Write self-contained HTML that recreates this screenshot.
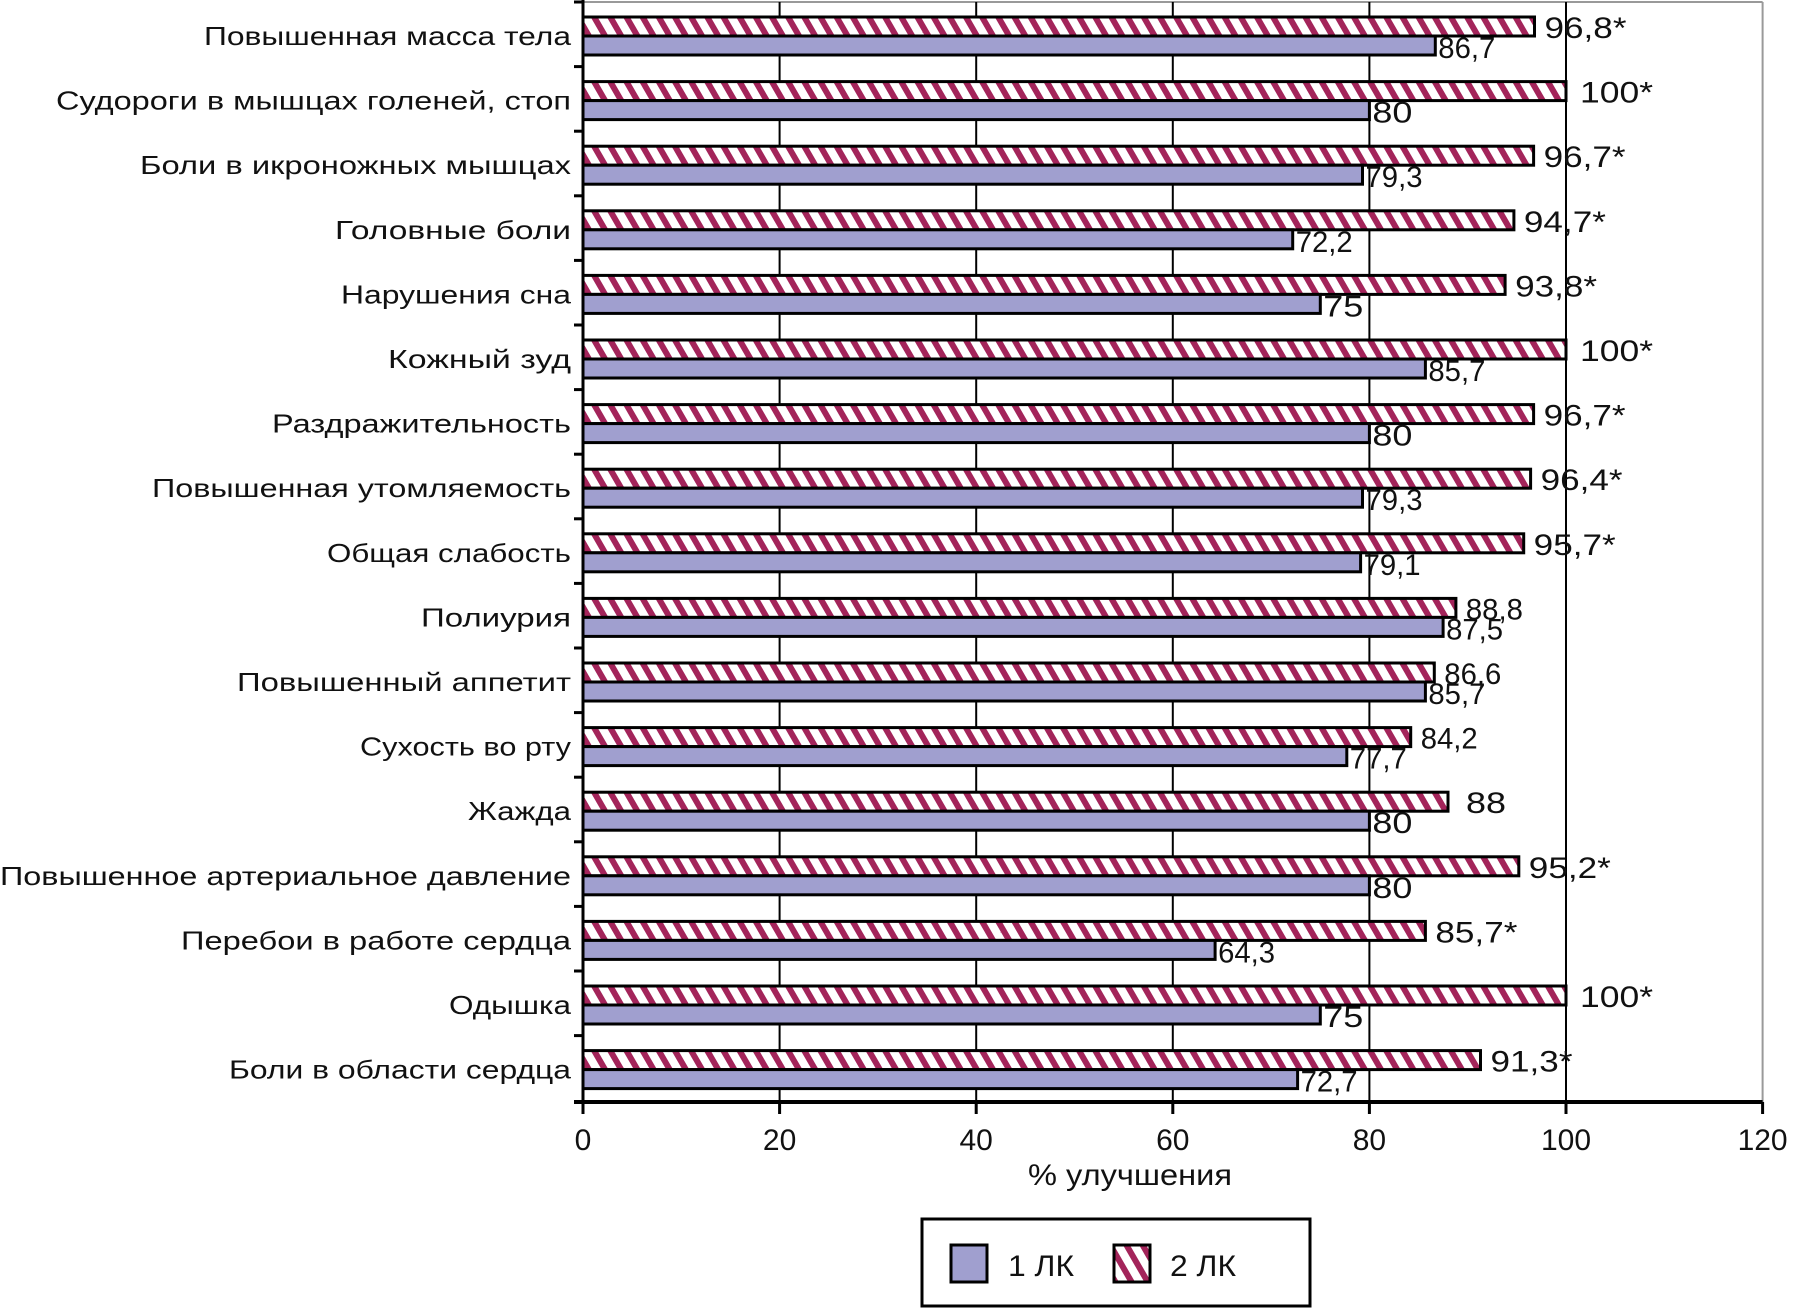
<!DOCTYPE html>
<html><head><meta charset="utf-8"><style>
html,body{margin:0;padding:0;background:#fff}
svg{display:block}
text{font-family:"Liberation Sans",sans-serif;fill:#111}
</style></head><body>
<svg width="1820" height="1308" viewBox="0 0 1820 1308" xmlns="http://www.w3.org/2000/svg">
<defs>
<pattern id="h" patternUnits="userSpaceOnUse" width="14" height="14" patternTransform="rotate(-30)">
<rect width="14" height="14" fill="#fff"/><rect width="6" height="14" fill="#A3245A"/>
</pattern>
</defs>
<line x1="583" y1="2" x2="1762.6" y2="2" stroke="#999" stroke-width="2"/>
<line x1="1762.6" y1="2" x2="1762.6" y2="1102" stroke="#999" stroke-width="2"/>
<g stroke="#000" stroke-width="2">
<line x1="779.6" y1="2" x2="779.6" y2="1102"/>
<line x1="976.2" y1="2" x2="976.2" y2="1102"/>
<line x1="1172.8" y1="2" x2="1172.8" y2="1102"/>
<line x1="1369.4" y1="2" x2="1369.4" y2="1102"/>
<line x1="1566" y1="2" x2="1566" y2="1102"/>
</g>
<g stroke="#000" stroke-width="3">
<line x1="583" y1="0" x2="583" y2="1114"/>
<line x1="574" y1="1102" x2="1762.6" y2="1102" stroke-width="4"/>
<line x1="779.6" y1="1102" x2="779.6" y2="1114"/>
<line x1="976.2" y1="1102" x2="976.2" y2="1114"/>
<line x1="1172.8" y1="1102" x2="1172.8" y2="1114"/>
<line x1="1369.4" y1="1102" x2="1369.4" y2="1114"/>
<line x1="1566" y1="1102" x2="1566" y2="1114"/>
<line x1="1762.6" y1="1102" x2="1762.6" y2="1114"/>
<line x1="574" y1="2" x2="583" y2="2"/>
<line x1="574" y1="66.6" x2="583" y2="66.6"/>
<line x1="574" y1="131.2" x2="583" y2="131.2"/>
<line x1="574" y1="195.8" x2="583" y2="195.8"/>
<line x1="574" y1="260.4" x2="583" y2="260.4"/>
<line x1="574" y1="325" x2="583" y2="325"/>
<line x1="574" y1="389.6" x2="583" y2="389.6"/>
<line x1="574" y1="454.2" x2="583" y2="454.2"/>
<line x1="574" y1="518.8" x2="583" y2="518.8"/>
<line x1="574" y1="583.4" x2="583" y2="583.4"/>
<line x1="574" y1="648" x2="583" y2="648"/>
<line x1="574" y1="712.6" x2="583" y2="712.6"/>
<line x1="574" y1="777.2" x2="583" y2="777.2"/>
<line x1="574" y1="841.8" x2="583" y2="841.8"/>
<line x1="574" y1="906.4" x2="583" y2="906.4"/>
<line x1="574" y1="971" x2="583" y2="971"/>
<line x1="574" y1="1035.6" x2="583" y2="1035.6"/>
</g>

<g font-size="26">
<g transform="translate(0,2)"><rect x="583" y="15" width="951.5" height="19" fill="url(#h)" stroke="#000" stroke-width="3"/><rect x="583" y="34" width="852.3" height="19" fill="#A09FCF" stroke="#000" stroke-width="3"/>
<text x="571" y="43" text-anchor="end" textLength="367" lengthAdjust="spacingAndGlyphs">Повышенная масса тела</text>
<g font-size="30"><text x="1544.5" y="36" textLength="82" lengthAdjust="spacingAndGlyphs">96,8*</text><text x="1438.3" y="56" textLength="57" lengthAdjust="spacingAndGlyphs">86,7</text></g></g>

<g transform="translate(0,66.6)"><rect x="583" y="15" width="983" height="19" fill="url(#h)" stroke="#000" stroke-width="3"/><rect x="583" y="34" width="786.4" height="19" fill="#A09FCF" stroke="#000" stroke-width="3"/>
<text x="571" y="43" text-anchor="end" textLength="515" lengthAdjust="spacingAndGlyphs">Судороги в мышцах голеней, стоп</text>
<g font-size="30"><text x="1580" y="36" textLength="73" lengthAdjust="spacingAndGlyphs">100*</text><text x="1372.4" y="56" textLength="40" lengthAdjust="spacingAndGlyphs">80</text></g></g>

<g transform="translate(0,131.2)"><rect x="583" y="15" width="950.6" height="19" fill="url(#h)" stroke="#000" stroke-width="3"/><rect x="583" y="34" width="779.5" height="19" fill="#A09FCF" stroke="#000" stroke-width="3"/>
<text x="571" y="43" text-anchor="end" textLength="431" lengthAdjust="spacingAndGlyphs">Боли в икроножных мышцах</text>
<g font-size="30"><text x="1543.6" y="36" textLength="82" lengthAdjust="spacingAndGlyphs">96,7*</text><text x="1365.5" y="56" textLength="57" lengthAdjust="spacingAndGlyphs">79,3</text></g></g>

<g transform="translate(0,195.8)"><rect x="583" y="15" width="930.9" height="19" fill="url(#h)" stroke="#000" stroke-width="3"/><rect x="583" y="34" width="709.7" height="19" fill="#A09FCF" stroke="#000" stroke-width="3"/>
<text x="571" y="43" text-anchor="end" textLength="236" lengthAdjust="spacingAndGlyphs">Головные боли</text>
<g font-size="30"><text x="1523.9" y="36" textLength="82" lengthAdjust="spacingAndGlyphs">94,7*</text><text x="1295.7" y="56" textLength="57" lengthAdjust="spacingAndGlyphs">72,2</text></g></g>

<g transform="translate(0,260.4)"><rect x="583" y="15" width="922.1" height="19" fill="url(#h)" stroke="#000" stroke-width="3"/><rect x="583" y="34" width="737.3" height="19" fill="#A09FCF" stroke="#000" stroke-width="3"/>
<text x="571" y="43" text-anchor="end" textLength="230" lengthAdjust="spacingAndGlyphs">Нарушения сна</text>
<g font-size="30"><text x="1515.1" y="36" textLength="82" lengthAdjust="spacingAndGlyphs">93,8*</text><text x="1323.3" y="56" textLength="40" lengthAdjust="spacingAndGlyphs">75</text></g></g>

<g transform="translate(0,325)"><rect x="583" y="15" width="983" height="19" fill="url(#h)" stroke="#000" stroke-width="3"/><rect x="583" y="34" width="842.4" height="19" fill="#A09FCF" stroke="#000" stroke-width="3"/>
<text x="571" y="43" text-anchor="end" textLength="183" lengthAdjust="spacingAndGlyphs">Кожный зуд</text>
<g font-size="30"><text x="1580" y="36" textLength="73" lengthAdjust="spacingAndGlyphs">100*</text><text x="1428.4" y="56" textLength="57" lengthAdjust="spacingAndGlyphs">85,7</text></g></g>

<g transform="translate(0,389.6)"><rect x="583" y="15" width="950.6" height="19" fill="url(#h)" stroke="#000" stroke-width="3"/><rect x="583" y="34" width="786.4" height="19" fill="#A09FCF" stroke="#000" stroke-width="3"/>
<text x="571" y="43" text-anchor="end" textLength="299" lengthAdjust="spacingAndGlyphs">Раздражительность</text>
<g font-size="30"><text x="1543.6" y="36" textLength="82" lengthAdjust="spacingAndGlyphs">96,7*</text><text x="1372.4" y="56" textLength="40" lengthAdjust="spacingAndGlyphs">80</text></g></g>

<g transform="translate(0,454.2)"><rect x="583" y="15" width="947.6" height="19" fill="url(#h)" stroke="#000" stroke-width="3"/><rect x="583" y="34" width="779.5" height="19" fill="#A09FCF" stroke="#000" stroke-width="3"/>
<text x="571" y="43" text-anchor="end" textLength="419" lengthAdjust="spacingAndGlyphs">Повышенная утомляемость</text>
<g font-size="30"><text x="1540.6" y="36" textLength="82" lengthAdjust="spacingAndGlyphs">96,4*</text><text x="1365.5" y="56" textLength="57" lengthAdjust="spacingAndGlyphs">79,3</text></g></g>

<g transform="translate(0,518.8)"><rect x="583" y="15" width="940.7" height="19" fill="url(#h)" stroke="#000" stroke-width="3"/><rect x="583" y="34" width="777.6" height="19" fill="#A09FCF" stroke="#000" stroke-width="3"/>
<text x="571" y="43" text-anchor="end" textLength="244" lengthAdjust="spacingAndGlyphs">Общая слабость</text>
<g font-size="30"><text x="1533.7" y="36" textLength="82" lengthAdjust="spacingAndGlyphs">95,7*</text><text x="1363.6" y="56" textLength="57" lengthAdjust="spacingAndGlyphs">79,1</text></g></g>

<g transform="translate(0,583.4)"><rect x="583" y="15" width="872.9" height="19" fill="url(#h)" stroke="#000" stroke-width="3"/><rect x="583" y="34" width="860.1" height="19" fill="#A09FCF" stroke="#000" stroke-width="3"/>
<text x="571" y="43" text-anchor="end" textLength="150" lengthAdjust="spacingAndGlyphs">Полиурия</text>
<g font-size="30"><text x="1465.9" y="36" textLength="57" lengthAdjust="spacingAndGlyphs">88,8</text><text x="1446.1" y="56" textLength="57" lengthAdjust="spacingAndGlyphs">87,5</text></g></g>

<g transform="translate(0,648)"><rect x="583" y="15" width="851.3" height="19" fill="url(#h)" stroke="#000" stroke-width="3"/><rect x="583" y="34" width="842.4" height="19" fill="#A09FCF" stroke="#000" stroke-width="3"/>
<text x="571" y="43" text-anchor="end" textLength="334" lengthAdjust="spacingAndGlyphs">Повышенный аппетит</text>
<g font-size="30"><text x="1444.3" y="36" textLength="57" lengthAdjust="spacingAndGlyphs">86,6</text><text x="1428.4" y="56" textLength="57" lengthAdjust="spacingAndGlyphs">85,7</text></g></g>

<g transform="translate(0,712.6)"><rect x="583" y="15" width="827.7" height="19" fill="url(#h)" stroke="#000" stroke-width="3"/><rect x="583" y="34" width="763.8" height="19" fill="#A09FCF" stroke="#000" stroke-width="3"/>
<text x="571" y="43" text-anchor="end" textLength="211" lengthAdjust="spacingAndGlyphs">Сухость во рту</text>
<g font-size="30"><text x="1420.7" y="36" textLength="57" lengthAdjust="spacingAndGlyphs">84,2</text><text x="1349.8" y="56" textLength="57" lengthAdjust="spacingAndGlyphs">77,7</text></g></g>

<g transform="translate(0,777.2)"><rect x="583" y="15" width="865" height="19" fill="url(#h)" stroke="#000" stroke-width="3"/><rect x="583" y="34" width="786.4" height="19" fill="#A09FCF" stroke="#000" stroke-width="3"/>
<text x="571" y="43" text-anchor="end" textLength="103" lengthAdjust="spacingAndGlyphs">Жажда</text>
<g font-size="30"><text x="1466" y="36" textLength="40" lengthAdjust="spacingAndGlyphs">88</text><text x="1372.4" y="56" textLength="40" lengthAdjust="spacingAndGlyphs">80</text></g></g>

<g transform="translate(0,841.8)"><rect x="583" y="15" width="935.8" height="19" fill="url(#h)" stroke="#000" stroke-width="3"/><rect x="583" y="34" width="786.4" height="19" fill="#A09FCF" stroke="#000" stroke-width="3"/>
<text x="571" y="43" text-anchor="end" textLength="571" lengthAdjust="spacingAndGlyphs">Повышенное артериальное давление</text>
<g font-size="30"><text x="1528.8" y="36" textLength="82" lengthAdjust="spacingAndGlyphs">95,2*</text><text x="1372.4" y="56" textLength="40" lengthAdjust="spacingAndGlyphs">80</text></g></g>

<g transform="translate(0,906.4)"><rect x="583" y="15" width="842.4" height="19" fill="url(#h)" stroke="#000" stroke-width="3"/><rect x="583" y="34" width="632.1" height="19" fill="#A09FCF" stroke="#000" stroke-width="3"/>
<text x="571" y="43" text-anchor="end" textLength="390" lengthAdjust="spacingAndGlyphs">Перебои в работе сердца</text>
<g font-size="30"><text x="1435.4" y="36" textLength="82" lengthAdjust="spacingAndGlyphs">85,7*</text><text x="1218.1" y="56" textLength="57" lengthAdjust="spacingAndGlyphs">64,3</text></g></g>

<g transform="translate(0,971)"><rect x="583" y="15" width="983" height="19" fill="url(#h)" stroke="#000" stroke-width="3"/><rect x="583" y="34" width="737.3" height="19" fill="#A09FCF" stroke="#000" stroke-width="3"/>
<text x="571" y="43" text-anchor="end" textLength="122" lengthAdjust="spacingAndGlyphs">Одышка</text>
<g font-size="30"><text x="1580" y="36" textLength="73" lengthAdjust="spacingAndGlyphs">100*</text><text x="1323.3" y="56" textLength="40" lengthAdjust="spacingAndGlyphs">75</text></g></g>

<g transform="translate(0,1035.6)"><rect x="583" y="15" width="897.5" height="19" fill="url(#h)" stroke="#000" stroke-width="3"/><rect x="583" y="34" width="714.6" height="19" fill="#A09FCF" stroke="#000" stroke-width="3"/>
<text x="571" y="43" text-anchor="end" textLength="342" lengthAdjust="spacingAndGlyphs">Боли в области сердца</text>
<g font-size="30"><text x="1490.5" y="36" textLength="82" lengthAdjust="spacingAndGlyphs">91,3*</text><text x="1300.6" y="56" textLength="57" lengthAdjust="spacingAndGlyphs">72,7</text></g></g>
</g>

<g font-size="30" text-anchor="middle">
<text x="583" y="1150">0</text>
<text x="779.6" y="1150">20</text>
<text x="976.2" y="1150">40</text>
<text x="1172.8" y="1150">60</text>
<text x="1369.4" y="1150">80</text>
<text x="1566" y="1150">100</text>
<text x="1762.6" y="1150">120</text>
<text x="1130" y="1185" textLength="204" lengthAdjust="spacingAndGlyphs">% улучшения</text>
</g>

<rect x="922" y="1219" width="388" height="87" fill="#fff" stroke="#000" stroke-width="3"/>
<rect x="951" y="1245" width="36" height="37" fill="#A09FCF" stroke="#000" stroke-width="3"/>
<text x="1008" y="1276" font-size="30" textLength="66" lengthAdjust="spacingAndGlyphs">1 ЛК</text>
<rect x="1114" y="1245" width="36" height="37" fill="url(#h)" stroke="#000" stroke-width="3"/>
<text x="1170" y="1276" font-size="30" textLength="66" lengthAdjust="spacingAndGlyphs">2 ЛК</text>
</svg>
</body></html>
